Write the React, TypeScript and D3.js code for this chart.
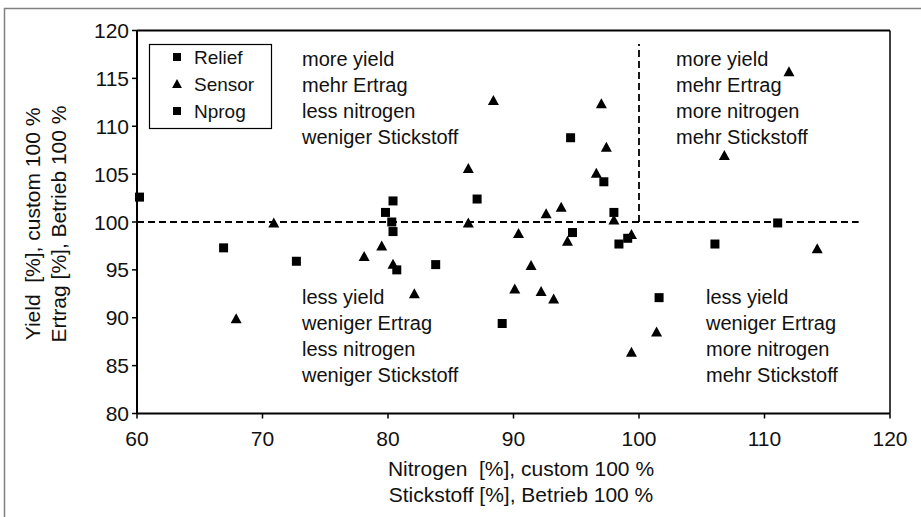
import React from 'react';
import * as d3 from 'd3';

const xTicks = [60, 70, 80, 90, 100, 110, 120];
const yTicks = [80, 85, 90, 95, 100, 105, 110, 115, 120];

const reliefX = [60.2, 66.9, 72.7, 79.8, 80.4, 80.3, 80.4, 80.7, 83.8, 87.1];
const reliefY = [102.6, 97.3, 95.9, 101.0, 102.2, 100.0, 99.0, 95.0, 95.55, 102.4];

const nprogX = [89.1, 94.55, 97.2, 94.7, 98.0, 98.4, 99.1, 101.6, 106.05, 111.05];
const nprogY = [89.4, 108.8, 104.2, 98.9, 101.0, 97.7, 98.3, 92.1, 97.7, 99.9];

const sensorX = [67.9, 70.9, 78.1, 79.5, 80.4, 82.1, 86.4, 86.4, 88.4, 90.4, 91.4, 90.1, 92.2, 93.2,
  92.6, 93.8, 94.3, 97.0, 97.4, 96.6, 98.0, 99.4, 101.4, 99.4, 106.8, 111.95, 114.2];
const sensorY = [89.9, 99.9, 96.4, 97.5, 95.6, 92.5, 105.6, 99.9, 112.7, 98.8, 95.45, 93.0, 92.75, 91.95,
  100.85, 101.55, 98.0, 112.35, 107.8, 105.1, 100.2, 98.7, 88.5, 86.4, 106.95, 115.7, 97.2];

const legendLabels = ['Relief', 'Sensor', 'Nprog'];

const quadTopLeft = ['more yield', 'mehr Ertrag', 'less nitrogen', 'weniger Stickstoff'];
const quadTopRight = ['more yield', 'mehr Ertrag', 'more nitrogen', 'mehr Stickstoff'];
const quadBottomLeft = ['less yield', 'weniger Ertrag', 'less nitrogen', 'weniger Stickstoff'];
const quadBottomRight = ['less yield', 'weniger Ertrag', 'more nitrogen', 'mehr Stickstoff'];

const xTitle = ['Nitrogen  [%], custom 100 %', 'Stickstoff [%], Betrieb 100 %'];
const yTitle = ['Yield  [%], custom 100 %', 'Ertrag [%], Betrieb 100 %'];

const refX = 100;
const refY = 100;
const hLineEnd = 117.5;
const vLineTop = 118.6;

const W = 921;
const H = 517;
const narrow = "'Liberation Sans Narrow', 'Arial Narrow', 'Liberation Sans', Arial, sans-serif";
const sans = "'Liberation Sans', Arial, sans-serif";

function tri(cx: number, cy: number, s: number) {
  return `M${cx},${cy - s * 0.55} L${cx + s * 0.55},${cy + s * 0.45} L${cx - s * 0.55},${cy + s * 0.45} Z`;
}

export default function App() {
  const x = d3.scaleLinear().domain([60, 120]).range([137, 890]);
  const y = d3.scaleLinear().domain([80, 120]).range([413.5, 30.5]);
  const [x0, x1] = x.range();
  const [y0, y1] = y.range();
  const sq = 9;

  const quad = (lines: string[], px: number, py: number, key: string) => (
    <g key={key}>
      {lines.map((t, i) => (
        <text key={i} x={px} y={py + i * 26} fontFamily={sans} fontSize={20} fill="#111">{t}</text>
      ))}
    </g>
  );

  return (
    <svg width={W} height={H} style={{ position: 'absolute', left: 0, top: 0, background: '#fff' }}>
      <rect x={4.5} y={8.5} width={W + 20} height={H + 20} fill="none" stroke="#808080" strokeWidth={1.5} />
      {/* plot frame */}
      <line x1={x0} y1={y1} x2={x1} y2={y1} stroke="#000" strokeWidth={2} />
      <line x1={x1} y1={y1} x2={x1} y2={y0} stroke="#000" strokeWidth={1.5} />
      <line x1={x0} y1={y0} x2={x1} y2={y0} stroke="#000" strokeWidth={2} />
      <line x1={x0} y1={y1} x2={x0} y2={y0} stroke="#000" strokeWidth={2} />
      {yTicks.map(v => (
        <g key={'y' + v}>
          <line x1={x0 - 5} x2={x0} y1={y(v)} y2={y(v)} stroke="#000" strokeWidth={1.5} />
          <text x={x0 - 8} y={y(v)} dy="0.36em" textAnchor="end" fontFamily={narrow} fontSize={21} fill="#111">{v}</text>
        </g>
      ))}
      {xTicks.map(v => (
        <g key={'x' + v}>
          <line x1={x(v)} x2={x(v)} y1={y0} y2={y0 + 5} stroke="#000" strokeWidth={1.5} />
          <text x={x(v)} y={y0 + 32} textAnchor="middle" fontFamily={narrow} fontSize={21} fill="#111">{v}</text>
        </g>
      ))}
      {/* reference lines */}
      <line x1={x0} x2={x(hLineEnd)} y1={y(refY)} y2={y(refY)} stroke="#000" strokeWidth={1.8} strokeDasharray="7,4" />
      <line x1={x(refX)} x2={x(refX)} y1={y(refY)} y2={y(vLineTop)} stroke="#000" strokeWidth={1.8} strokeDasharray="7,4" />
      {/* points */}
      {reliefX.map((v, i) => (
        <rect key={'r' + i} x={x(v) - sq / 2} y={y(reliefY[i]) - sq / 2} width={sq} height={sq} fill="#000" />
      ))}
      {nprogX.map((v, i) => (
        <rect key={'n' + i} x={x(v) - sq / 2} y={y(nprogY[i]) - sq / 2} width={sq} height={sq} fill="#000" />
      ))}
      {sensorX.map((v, i) => (
        <path key={'s' + i} d={tri(x(v), y(sensorY[i]), 10)} fill="#000" />
      ))}
      {/* legend */}
      <rect x={149.5} y={44.5} width={122} height={84} fill="#fff" stroke="#000" strokeWidth={1.2} />
      {legendLabels.map((t, i) => {
        const cy = 57 + i * 27;
        return (
          <g key={t}>
            {i === 1
              ? <path d={tri(177, cy, 9)} fill="#000" />
              : <rect x={173} y={cy - 4} width={8} height={8} fill="#000" />}
            <text x={194} y={cy + 7} fontFamily={sans} fontSize={19} fill="#111">{t}</text>
          </g>
        );
      })}
      {quad(quadTopLeft, 302, 66, 'tl')}
      {quad(quadTopRight, 676, 66, 'tr')}
      {quad(quadBottomLeft, 302, 304, 'bl')}
      {quad(quadBottomRight, 706, 304, 'br')}
      {/* axis titles */}
      {xTitle.map((t, i) => (
        <text key={'xt' + i} x={521} y={476 + i * 26} textAnchor="middle" fontFamily={narrow} fontSize={21} fill="#111" style={{ whiteSpace: 'pre' }}>{t}</text>
      ))}
      {yTitle.map((t, i) => (
        <text key={'yt' + i} transform={`translate(${40 + i * 26},${(y0 + y1) / 2 + 2}) rotate(-90)`} textAnchor="middle" fontFamily={narrow} fontSize={21} fill="#111" style={{ whiteSpace: 'pre' }}>{t}</text>
      ))}
    </svg>
  );
}
